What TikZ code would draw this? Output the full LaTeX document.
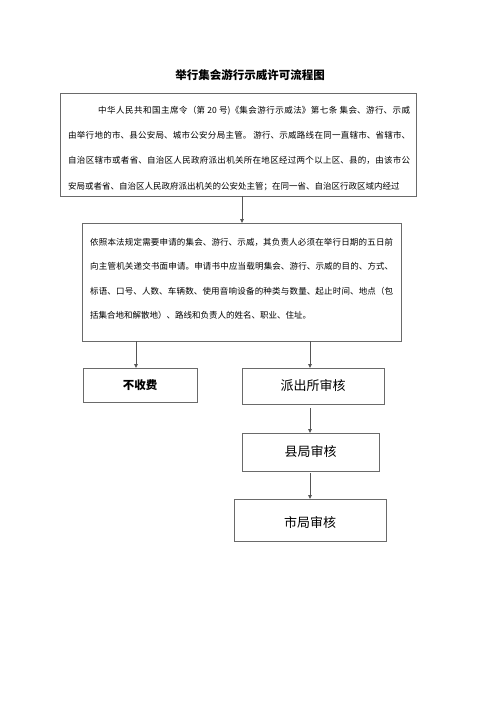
\documentclass[tikz,border=0pt]{standalone}
\usepackage{fontspec}
\newfontfamily\cjk{Noto Sans CJK SC}
\usetikzlibrary{arrows.meta}
\XeTeXlinebreaklocale "zh"
\XeTeXlinebreakskip=0pt plus 1.5pt
\definecolor{boxgray}{HTML}{6A6A6A}
\definecolor{arrgray}{HTML}{555555}
\begin{document}
\begin{tikzpicture}[x=1pt,y=-1pt,
  box/.style={draw=boxgray, line width=0.9pt, inner sep=0pt, outer sep=0pt, anchor=north west},
  arr/.style={draw=arrgray, line width=0.9pt, -{Triangle[length=4pt,width=3.6pt]}},
  bodyone/.style={inner sep=0pt, anchor=north west, align=justify, text width=342pt, font=\cjk\fontsize{8.5}{25.2}\selectfont},
  bodytwo/.style={inner sep=0pt, anchor=north west, align=justify, text width=303pt, font=\cjk\fontsize{8.5}{24.5}\selectfont},
  lbl/.style={font=\cjk\fontsize{13}{15}\selectfont},
  lblbold/.style={font=\cjk\bfseries\fontsize{11.5}{13}\selectfont}
]
\fill[white] (0,0) rectangle (500,707);
\useasboundingbox (0,0) rectangle (500,707);

\node[font=\cjk\bfseries\fontsize{11.5}{13}\selectfont] (title) at (250,75) {举行集会游行示威许可流程图};

\node[box, minimum width=356, minimum height=103] (b1) at (60,93) {};
\node[bodyone] (t1) at (68,106) {\noindent\parfillskip=0pt\hspace*{30pt}中华人民共和国主席令（第 20 号)《集会游行示威法》第七条 集会、游行、示威\linebreak
由举行地的市、县公安局、城市公安分局主管。 游行、示威路线在同一直辖市、省辖市、\linebreak
自治区辖市或者省、自治区人民政府派出机关所在地区经过两个以上区、县的，由该市公\linebreak
安局或者省、自治区人民政府派出机关的公安处主管；在同一省、自治区行政区域内经过};

\node[box, minimum width=319, minimum height=118] (b2) at (82,223) {};
\node[bodytwo] (t2) at (90,238) {\noindent 依照本法规定需要申请的集会、游行、示威，其负责人必须在举行日期的五日前\linebreak
向主管机关递交书面申请。申请书中应当载明集会、游行、示威的目的、方式、\linebreak
标语、口号、人数、车辆数、使用音响设备的种类与数量、起止时间、地点（包\linebreak
括集合地和解散地）、路线和负责人的姓名、职业、住址。};

\node[box, minimum width=114, minimum height=34] (b3) at (83,368) {};
\node[lblbold] (l3) at (b3.center) {不收费};
\node[box, minimum width=142, minimum height=36] (b4) at (242,368) {};
\node[lbl] (l4) at (b4.center) {派出所审核};
\node[box, minimum width=137, minimum height=38] (b5) at (242,433) {};
\node[lbl] (l5) at (b5.center) {县局审核};
\node[box, minimum width=152, minimum height=42] (b6) at (234,499) {};
\node[lbl] (l6) at ([yshift=-3pt]b6.center) {市局审核};

\coordinate (c1) at (242,0);
\coordinate (c2) at (136,0);
\coordinate (c3) at (310,0);
\draw[arr] (b1.south -| c1) -- (b2.north -| c1);
\draw[arr] (b2.south -| c2) -- (b3.north -| c2);
\draw[arr] (b2.south -| c3) -- (b4.north -| c3);
\draw[arr, shorten <=4pt] (b4.south -| c3) -- (b5.north -| c3);
\draw[arr, shorten <=2pt] (b5.south -| c3) -- (b6.north -| c3);
\end{tikzpicture}
\end{document}
